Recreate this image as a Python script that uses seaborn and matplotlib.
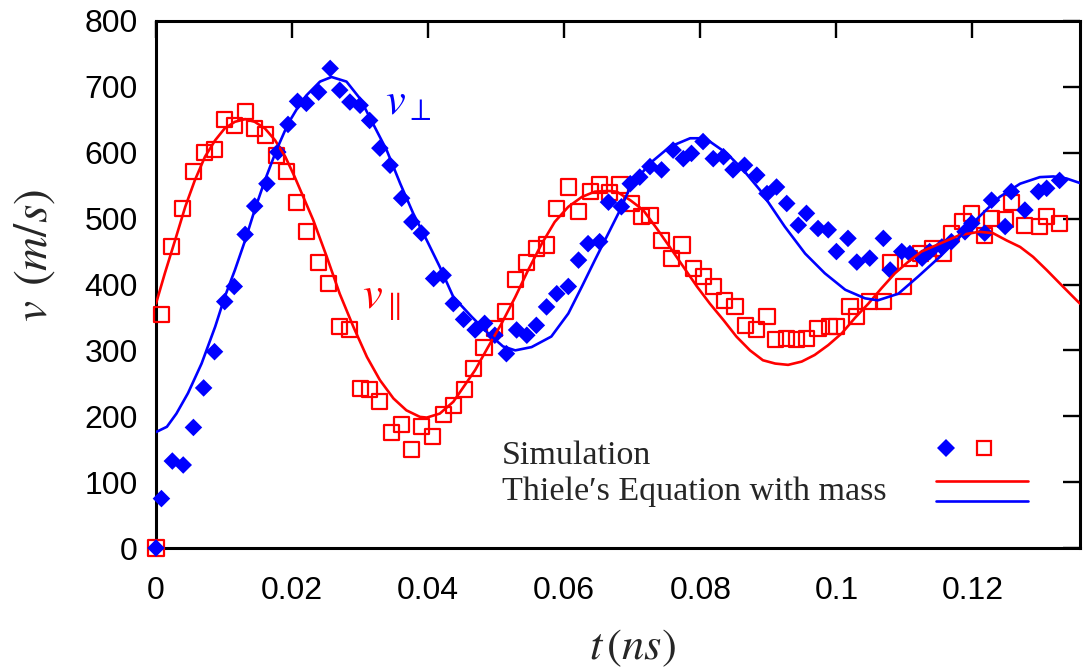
import matplotlib
matplotlib.use("Agg")
import matplotlib.pyplot as plt
import seaborn as sns
import numpy as np
import pandas as pd
from matplotlib.lines import Line2D
from matplotlib.legend_handler import HandlerBase

# ---------------- data ----------------
perp_sim_t = [0, 0.0008, 0.0024, 0.0040, 0.0055, 0.0070, 0.0086, 0.0101, 0.0115, 0.0131,
              0.0145, 0.0163, 0.0179, 0.0194, 0.0208, 0.0221, 0.0239, 0.0256, 0.0270, 0.0285,
              0.0300, 0.0314, 0.0329, 0.0344, 0.0361, 0.0376, 0.0390, 0.0408, 0.0422, 0.0437,
              0.0452, 0.0469, 0.0483, 0.0498, 0.0515, 0.0530, 0.0545, 0.0559, 0.0574, 0.0589,
              0.0606, 0.0621, 0.0635, 0.0652, 0.0665, 0.0684, 0.0697, 0.0711, 0.0726, 0.0743,
              0.0760, 0.0775, 0.0787, 0.0804, 0.0819, 0.0834, 0.0848, 0.0865, 0.0883, 0.0898,
              0.0912, 0.0927, 0.0944, 0.0956, 0.0973, 0.0988, 0.1000, 0.1017, 0.1030, 0.1049,
              0.1069, 0.1079, 0.1096, 0.1108, 0.1126, 0.1137, 0.1155, 0.1169, 0.1189, 0.1199,
              0.1218, 0.1228, 0.1248, 0.1257, 0.1277, 0.1297, 0.1309, 0.1328]
perp_sim_v = [0, 75, 132, 126, 183, 243, 298, 374, 397, 476,
              519, 553, 601, 643, 678, 675, 692, 728, 695, 677,
              672, 649, 607, 581, 531, 495, 478, 409, 414, 371,
              347, 331, 341, 323, 295, 331, 323, 338, 366, 386,
              397, 437, 462, 465, 525, 518, 553, 563, 579, 574,
              604, 591, 599, 617, 591, 594, 574, 581, 566, 538,
              548, 523, 490, 508, 485, 483, 450, 470, 434, 440,
              470, 422, 450, 447, 440, 450, 457, 465, 480, 493,
              478, 528, 488, 541, 513, 541, 546, 558]

par_sim_t = [0, 0.0008, 0.0023, 0.0039, 0.0055, 0.0071, 0.0086, 0.0101, 0.0115, 0.0131,
             0.0145, 0.0161, 0.0177, 0.0192, 0.0207, 0.0221, 0.0239, 0.0253, 0.0270, 0.0285,
             0.0300, 0.0314, 0.0329, 0.0346, 0.0361, 0.0376, 0.0390, 0.0407, 0.0422, 0.0437,
             0.0454, 0.0466, 0.0482, 0.0497, 0.0513, 0.0528, 0.0545, 0.0559, 0.0574, 0.0589,
             0.0606, 0.0621, 0.0638, 0.0652, 0.0667, 0.0682, 0.0699, 0.0714, 0.0726, 0.0743,
             0.0758, 0.0773, 0.0790, 0.0804, 0.0819, 0.0836, 0.0851, 0.0866, 0.0883, 0.0898,
             0.0910, 0.0927, 0.0941, 0.0956, 0.0973, 0.0990, 0.1000, 0.1020, 0.1030, 0.1049,
             0.1069, 0.1079, 0.1098, 0.1108, 0.1123, 0.1142, 0.1157, 0.1169, 0.1186, 0.1199,
             0.1218, 0.1228, 0.1248, 0.1257, 0.1277, 0.1299, 0.1309, 0.1328]
par_sim_v = [0, 354, 457, 515, 572, 600, 605, 650, 642, 663,
             637, 627, 596, 571, 525, 480, 434, 402, 336, 331,
             242, 240, 222, 176, 187, 149, 184, 169, 202, 217,
             240, 273, 305, 333, 359, 407, 434, 455, 460, 515,
             548, 511, 541, 551, 540, 551, 523, 503, 505, 467,
             440, 460, 424, 412, 397, 376, 366, 338, 331, 352,
             316, 318, 316, 318, 333, 336, 336, 366, 351, 374,
             374, 434, 397, 440, 447, 455, 447, 478, 495, 508,
             475, 500, 498, 525, 490, 488, 503, 493]

perp_fit_t = [0, 0.0016, 0.0030, 0.0047, 0.0067, 0.0087, 0.0101, 0.0116, 0.0131, 0.0145,
              0.0160, 0.0177, 0.0194, 0.0212, 0.0221, 0.0241, 0.0258, 0.0280, 0.0300, 0.0319,
              0.0339, 0.0359, 0.0378, 0.0398, 0.0417, 0.0437, 0.0464, 0.0488, 0.0510, 0.0528,
              0.0552, 0.0581, 0.0606, 0.0626, 0.0645, 0.0665, 0.0682, 0.0697, 0.0726, 0.0755,
              0.0785, 0.0800, 0.0814, 0.0839, 0.0863, 0.0888, 0.0924, 0.0954, 0.0983, 0.1013,
              0.1042, 0.1061, 0.1091, 0.1120, 0.1152, 0.1181, 0.1210, 0.1240, 0.1270, 0.1299,
              0.1319, 0.1338, 0.1358]
perp_fit_v = [176, 184, 204, 235, 280, 336, 381, 422, 467, 513,
              558, 604, 644, 675, 687, 708, 715, 708, 682, 644,
              604, 553, 508, 467, 427, 381, 351, 326, 306, 300,
              305, 321, 356, 397, 437, 478, 513, 548, 584, 609,
              622, 622, 617, 599, 574, 543, 488, 447, 417, 392,
              379, 376, 386, 412, 442, 472, 503, 533, 553, 563,
              564, 561, 554]

par_fit_t = [0, 0.0013, 0.0028, 0.0043, 0.0057, 0.0072, 0.0087, 0.0101, 0.0116, 0.0131,
             0.0145, 0.0160, 0.0175, 0.0190, 0.0204, 0.0231, 0.0251, 0.0270, 0.0290, 0.0310,
             0.0329, 0.0349, 0.0368, 0.0388, 0.0398, 0.0417, 0.0437, 0.0449, 0.0469, 0.0488,
             0.0508, 0.0528, 0.0547, 0.0567, 0.0586, 0.0606, 0.0626, 0.0645, 0.0665, 0.0677,
             0.0697, 0.0716, 0.0736, 0.0755, 0.0775, 0.0795, 0.0814, 0.0834, 0.0853, 0.0873,
             0.0892, 0.0910, 0.0929, 0.0949, 0.0968, 0.0988, 0.1008, 0.1027, 0.1047, 0.1066,
             0.1086, 0.1105, 0.1125, 0.1152, 0.1181, 0.1210, 0.1230, 0.1250, 0.1270, 0.1289,
             0.1309, 0.1328, 0.1353, 0.1358]
par_fit_v = [371, 417, 467, 518, 558, 594, 619, 637, 647, 651,
             647, 637, 619, 594, 563, 498, 442, 386, 336, 290,
             255, 227, 209, 199, 198, 204, 222, 240, 270, 305,
             341, 381, 422, 462, 495, 518, 533, 541, 542, 541,
             528, 513, 485, 457, 427, 397, 371, 346, 321, 300,
             285, 280, 278, 283, 293, 308, 326, 349, 371, 394,
             417, 434, 450, 462, 475, 480, 478, 467, 457, 442,
             422, 402, 376, 371]

x_ticks = [0, 0.02, 0.04, 0.06, 0.08, 0.10, 0.12]
x_tick_labels = ["0", "0.02", "0.04", "0.06", "0.08", "0.1", "0.12"]
y_ticks = [0, 100, 200, 300, 400, 500, 600, 700, 800]
legend_labels = ["Simulation", "Thiele\u2032s Equation with mass"]

BLUE = "#0000ff"
RED = "#ff0000"

# ---------------- figure ----------------
sns.set_style("white")
plt.rcParams["mathtext.fontset"] = "stix"
plt.rcParams["font.family"] = ["Liberation Sans", "DejaVu Sans"]

fig = plt.figure(figsize=(10.88, 6.71), dpi=100)
ax = fig.add_axes([156 / 1088, 123 / 671, 924 / 1088, 527 / 671])

sim_perp = pd.DataFrame({"t": perp_sim_t, "v": perp_sim_v})
sim_par = pd.DataFrame({"t": par_sim_t, "v": par_sim_v})
fit_perp = pd.DataFrame({"t": perp_fit_t, "v": perp_fit_v})
fit_par = pd.DataFrame({"t": par_fit_t, "v": par_fit_v})

# open red squares
sns.scatterplot(data=sim_par, x="t", y="v", marker="s", s=118, ax=ax,
                color=RED, zorder=3, legend=False)
sq = ax.collections[-1]
sq.set_facecolor("none")
sq.set_edgecolor(RED)
sq.set_linewidth(1.6)
sq.set_clip_on(False)

# filled blue diamonds
sns.scatterplot(data=sim_perp, x="t", y="v", marker="D", s=80, ax=ax,
                color=BLUE, edgecolor="none", linewidth=0, zorder=4, legend=False)
ax.collections[-1].set_clip_on(False)

# Thiele curves
sns.lineplot(data=fit_par, x="t", y="v", ax=ax, color=RED, lw=1.9,
             estimator=None, sort=False, zorder=5)
sns.lineplot(data=fit_perp, x="t", y="v", ax=ax, color=BLUE, lw=1.9,
             estimator=None, sort=False, zorder=5)

ax.set_xlim(0, 0.1358)
ax.set_ylim(0, 800)
ax.set_xticks(x_ticks)
ax.set_xticklabels(x_tick_labels)
ax.set_yticks(y_ticks)
ax.set_yticklabels([str(v) for v in y_ticks])

for sp in ax.spines.values():
    sp.set_visible(True)
    sp.set_linewidth(2.2)
    sp.set_color("black")

ax.tick_params(axis="both", which="major", direction="in", length=12.5, width=1.7,
               colors="black", labelsize=23, top=True, right=True)
ax.tick_params(axis="y", pad=13)
ax.tick_params(axis="x", pad=20)

ax.set_xlabel(r"$t\,(ns)$", fontsize=32)
ax.xaxis.set_label_coords(0.516, -0.19)
ax.xaxis.label.set_va("center")
ax.set_ylabel(r"$v\;\,(m/s)$", fontsize=34)
ax.yaxis.set_label_coords(-0.132, 0.555)
ax.yaxis.label.set_va("center")
ax.yaxis.label.set_ha("center")

ax.text(0.0370, 677, r"$v_{\perp}$", color=BLUE, fontsize=32, ha="center", va="center", zorder=6)
ax.text(0.0331, 373, r"$v_{\parallel}$", color=RED, fontsize=32, ha="center", va="center", zorder=6)


# ---------------- legend ----------------
class PairHandler(HandlerBase):
    def create_artists(self, legend, orig_handle, xdescent, ydescent, width, height,
                       fontsize, trans):
        a, b = orig_handle
        arts = []
        if a.get_linestyle() in ("None", "", " "):
            ys = height / 2 - ydescent
            for h, fx in ((a, 0.11), (b, 0.52)):
                m = Line2D([fx * width - xdescent], [ys], marker=h.get_marker(), ls="",
                           ms=h.get_markersize(), mfc=h.get_markerfacecolor(),
                           mec=h.get_markeredgecolor(), mew=h.get_markeredgewidth(),
                           transform=trans)
                arts.append(m)
        else:
            for h, fy in ((a, 0.92), (b, 0.08)):
                y = fy * height - ydescent
                ln = Line2D([-xdescent, width - xdescent], [y, y], color=h.get_color(),
                            lw=h.get_linewidth(), transform=trans)
                arts.append(ln)
        return arts


h_sim = (Line2D([], [], marker="D", ls="", ms=8.8, mfc=BLUE, mec=BLUE, mew=0),
         Line2D([], [], marker="s", ls="", ms=10.5, mfc="none", mec=RED, mew=1.6))
h_fit = (Line2D([], [], color=RED, lw=1.9), Line2D([], [], color=BLUE, lw=1.9))

# handles only (labels drawn as left-aligned texts below)
leg = ax.legend([h_sim, h_fit], ["", ""],
                handler_map={tuple: PairHandler()}, frameon=False,
                loc="upper left", bbox_to_anchor=(0.844, 0.213), borderaxespad=0,
                borderpad=0, handlelength=6.6, handletextpad=0.0, labelspacing=1.4,
                handleheight=2.25, prop={"size": 10})

serif = ["Liberation Serif", "DejaVu Serif"]
ax.text(0.3745, 0.1594, legend_labels[0], transform=ax.transAxes, ha="left",
        va="baseline", fontsize=24.5, family=serif)
ax.text(0.3745, 0.0911, legend_labels[1], transform=ax.transAxes, ha="left",
        va="baseline", fontsize=24.5, family=serif)

fig.savefig("out.png", dpi=100, facecolor="white")
